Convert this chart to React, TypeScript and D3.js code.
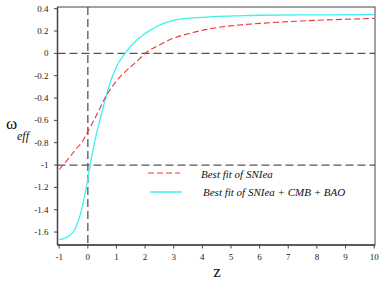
import React from "react";
import * as d3 from "d3";

const xTicks = [-1, 0, 1, 2, 3, 4, 5, 6, 7, 8, 9, 10];
const yTicks = [0.4, 0.2, 0, -0.2, -0.4, -0.6, -0.8, -1, -1.2, -1.4, -1.6];

const snZ = [-1, -0.7, -0.44, -0.17, 0, 0.25, 0.6, 0.9, 1.24, 1.7, 2.0, 2.5, 2.98, 3.5, 4.15, 5.3, 6, 7, 8, 9, 10];
const snW = [-1.04, -0.95, -0.866, -0.78, -0.7, -0.58, -0.4, -0.28, -0.18, -0.075, 0.0, 0.075, 0.135, 0.175, 0.215, 0.254, 0.268, 0.284, 0.296, 0.305, 0.313];

const allZ = [-1, -0.9, -0.8, -0.68, -0.55, -0.44, -0.32, -0.21, -0.1, 0, 0.1, 0.2, 0.3, 0.42, 0.6, 0.77, 1.0, 1.3, 1.59, 1.93, 2.17, 2.4, 2.98, 3.5, 4.15, 5.3, 6, 8, 10];
const allW = [-1.665, -1.663, -1.655, -1.64, -1.61, -1.57, -1.49, -1.39, -1.26, -1.12, -0.97, -0.84, -0.72, -0.6, -0.42, -0.27, -0.12, 0.0, 0.09, 0.165, 0.205, 0.24, 0.295, 0.315, 0.325, 0.336, 0.341, 0.345, 0.347];

const xScale = d3.scaleLinear().domain([-1.06, 10.03]).range([57.5, 375]);
const yScale = d3.scaleLinear().domain([0.415, -1.716]).range([7, 245]);

const line = d3
  .line<[number, number]>()
  .x((d) => xScale(d[0]))
  .y((d) => yScale(d[1]))
  .curve(d3.curveMonotoneX);

const serif = "'Liberation Serif', 'DejaVu Serif', serif";
const axisColor = "#444";
const refColor = "#555";

export default function App() {
  const snPath = line(snZ.map((z, i) => [z, snW[i]] as [number, number])) || "";
  const allPath = line(allZ.map((z, i) => [z, allW[i]] as [number, number])) || "";
  const [x0, x1] = xScale.range();
  const [y0, y1] = yScale.range();
  return (
    <svg
      width={382}
      height={284}
      style={{ position: "absolute", left: 0, top: 0, background: "#fff", fontFamily: serif }}
    >
      {/* reference dashed lines */}
      <line x1={x0} x2={x1} y1={yScale(0)} y2={yScale(0)} stroke={refColor} strokeWidth={1.3} strokeDasharray="8,4" />
      <line x1={x0} x2={x1} y1={yScale(-1)} y2={yScale(-1)} stroke={refColor} strokeWidth={1.3} strokeDasharray="8,4" />
      <line x1={xScale(0)} x2={xScale(0)} y1={y0} y2={y1} stroke={refColor} strokeWidth={1.3} strokeDasharray="8,4" />

      {/* curves */}
      <path d={allPath} fill="none" stroke="#40f0f0" strokeWidth={1.3} />
      <path d={snPath} fill="none" stroke="#ee3333" strokeWidth={1.1} strokeDasharray="6,3" />

      {/* frame */}
      <rect x={x0} y={y0} width={x1 - x0} height={y1 - y0} fill="none" stroke={axisColor} strokeWidth={1} />
      <line x1={x0} x2={x0} y1={y0} y2={y1} stroke={axisColor} strokeWidth={1.5} />
      <line x1={x0} x2={x1} y1={y1} y2={y1} stroke={axisColor} strokeWidth={1.5} />

      {/* y ticks */}
      {yTicks.map((t) => (
        <g key={"y" + t}>
          <line x1={x0 - 3.5} x2={x0} y1={yScale(t)} y2={yScale(t)} stroke={axisColor} strokeWidth={1} />
          <text x={x0 - 9} y={yScale(t) + 3} fontSize={9} textAnchor="end" fill="#222">
            {String(t)}
          </text>
        </g>
      ))}

      {/* x ticks */}
      {xTicks.map((t) => (
        <g key={"x" + t}>
          <line x1={xScale(t)} x2={xScale(t)} y1={y1} y2={y1 + 3.5} stroke={axisColor} strokeWidth={1} />
          <text x={xScale(t)} y={y1 + 15} fontSize={9} textAnchor="middle" fill="#222">
            {String(t)}
          </text>
        </g>
      ))}

      {/* axis labels */}
      <text x={6} y={129} fontSize={17} fill="#111">ω</text>
      <text x={17} y={140} fontSize={12} fontStyle="italic" fill="#111">eff</text>
      <text x={217} y={277} fontSize={17} textAnchor="middle" fill="#111">z</text>

      {/* legend */}
      <line x1={148} x2={180} y1={173} y2={173} stroke="#ee3333" strokeWidth={1.1} strokeDasharray="6,3" />
      <text x={201} y={178} fontSize={11} fontStyle="italic" fill="#111">Best fit of SNIea</text>
      <line x1={150} x2={182} y1={192} y2={192} stroke="#40f0f0" strokeWidth={1.5} />
      <text x={203} y={196} fontSize={11} fontStyle="italic" fill="#111">Best fit of SNIea + CMB + BAO</text>
    </svg>
  );
}
